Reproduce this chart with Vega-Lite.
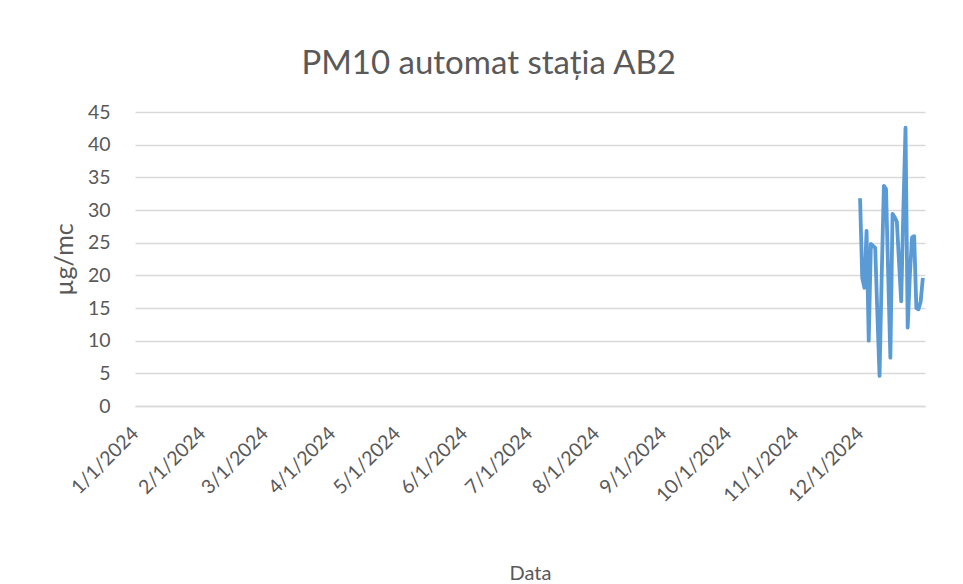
{
  "$schema": "https://vega.github.io/schema/vega-lite/v6.json",
  "autosize": "none",
  "width": 790,
  "height": 294,
  "padding": {"left": 135, "top": 112, "right": 38, "bottom": 178},
  "background": "white",
  "title": {
    "text": "PM10 automat stația AB2",
    "font": "Lato",
    "fontSize": 33,
    "fontWeight": "normal",
    "color": "#595959",
    "anchor": "middle",
    "frame": "bounds",
    "offset": 21
  },
  "config": {
    "view": {"stroke": null},
    "axis": {
      "labelFont": "Lato",
      "titleFont": "Lato",
      "labelColor": "#595959",
      "titleColor": "#595959",
      "labelFontSize": 19.5,
      "titleFontSize": 20,
      "titleFontWeight": "normal"
    }
  },
  "data": {
    "values": [
      {"date": "2024-12-01", "value": 31.8},
      {"date": "2024-12-02", "value": 19.6},
      {"date": "2024-12-03", "value": 18.1},
      {"date": "2024-12-04", "value": 26.8},
      {"date": "2024-12-05", "value": 10.0},
      {"date": "2024-12-06", "value": 24.8},
      {"date": "2024-12-07", "value": 24.5},
      {"date": "2024-12-08", "value": 24.2},
      {"date": "2024-12-09", "value": 14.0},
      {"date": "2024-12-10", "value": 4.6},
      {"date": "2024-12-11", "value": 20.0},
      {"date": "2024-12-12", "value": 33.7},
      {"date": "2024-12-13", "value": 33.2},
      {"date": "2024-12-14", "value": 20.0},
      {"date": "2024-12-15", "value": 7.4},
      {"date": "2024-12-16", "value": 29.4},
      {"date": "2024-12-17", "value": 28.9},
      {"date": "2024-12-18", "value": 28.2},
      {"date": "2024-12-19", "value": 22.0},
      {"date": "2024-12-20", "value": 16.0},
      {"date": "2024-12-21", "value": 30.0},
      {"date": "2024-12-22", "value": 42.6},
      {"date": "2024-12-23", "value": 12.0},
      {"date": "2024-12-24", "value": 20.0},
      {"date": "2024-12-25", "value": 25.8},
      {"date": "2024-12-26", "value": 26.0},
      {"date": "2024-12-27", "value": 15.0},
      {"date": "2024-12-28", "value": 14.8},
      {"date": "2024-12-29", "value": 16.0},
      {"date": "2024-12-30", "value": 19.6}
    ]
  },
  "mark": {"type": "line", "color": "#5b9bd5", "strokeWidth": 3.8, "strokeJoin": "round"},
  "encoding": {
    "x": {
      "field": "date",
      "type": "temporal",
      "scale": {
        "type": "utc",
        "domain": [
          {"year": 2024, "month": 1, "date": 1, "utc": true},
          {"year": 2024, "month": 12, "date": 31, "utc": true}
        ]
      },
      "axis": {
        "title": "Data",
        "titlePadding": 58,
        "labelExpr": "utcFormat(datum.value, '%-m/%-d/%Y')",
        "values": [
          {"year": 2024, "month": 1, "date": 1, "utc": true},
          {"year": 2024, "month": 2, "date": 1, "utc": true},
          {"year": 2024, "month": 3, "date": 1, "utc": true},
          {"year": 2024, "month": 4, "date": 1, "utc": true},
          {"year": 2024, "month": 5, "date": 1, "utc": true},
          {"year": 2024, "month": 6, "date": 1, "utc": true},
          {"year": 2024, "month": 7, "date": 1, "utc": true},
          {"year": 2024, "month": 8, "date": 1, "utc": true},
          {"year": 2024, "month": 9, "date": 1, "utc": true},
          {"year": 2024, "month": 10, "date": 1, "utc": true},
          {"year": 2024, "month": 11, "date": 1, "utc": true},
          {"year": 2024, "month": 12, "date": 1, "utc": true}
        ],
        "labelAngle": -45,
        "labelAlign": "right",
        "labelBaseline": "middle",
        "labelPadding": 24,
        "labelOverlap": false,
        "labelFlush": false,
        "grid": false,
        "ticks": false,
        "domain": true,
        "domainColor": "#d9d9d9",
        "domainWidth": 1.5
      }
    },
    "y": {
      "field": "value",
      "type": "quantitative",
      "scale": {"domain": [0, 45], "nice": false},
      "axis": {
        "title": "µg/mc",
        "titleFontSize": 25,
        "titlePadding": 10,
        "values": [0, 5, 10, 15, 20, 25, 30, 35, 40, 45],
        "labelPadding": 25,
        "ticks": false,
        "domain": false,
        "grid": true,
        "gridColor": "#d9d9d9",
        "gridWidth": 1.5
      }
    }
  }
}
